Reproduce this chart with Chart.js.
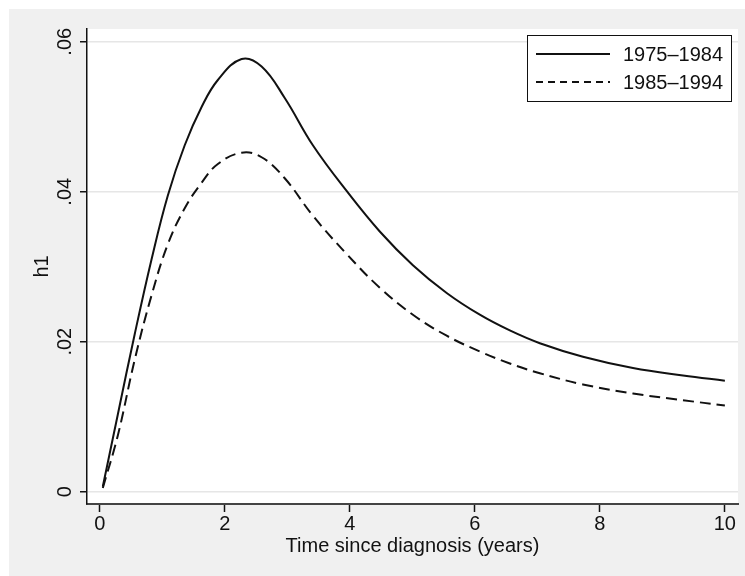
<!DOCTYPE html>
<html lang="en">
<head>
    <meta charset="UTF-8">
    <title>h1 by period</title>
    <script src="https://cdn.jsdelivr.net/npm/chart.js@4.4.1/dist/chart.umd.min.js"></script>
    <style>
        html, body {
            margin: 0;
            padding: 0;
            background: #ffffff;
        }
        .chart-box {
            position: relative;
            width: 745px;
            height: 576px;
        }
    </style>
</head>
<body>
    <div class="chart-box">
        <canvas id="hazard-chart" width="745" height="576"></canvas>
    </div>
    <script>
        // values
        const times = [0.05, 0.29, 0.56, 0.83, 1.09, 1.36, 1.63, 1.89, 2.27, 2.59, 2.96, 3.41,
                       3.95, 4.48, 5.01, 5.55, 6.08, 6.56, 7.04, 7.73, 8.53, 9.33, 10.0];
        const h1Period1 = [0.0007, 0.0103, 0.0210, 0.0310, 0.0395, 0.0462, 0.0513, 0.0549, 0.0577, 0.0567, 0.0525, 0.0462,
                           0.0401, 0.0347, 0.0302, 0.0265, 0.0236, 0.0215, 0.0198, 0.0180, 0.0165, 0.0155, 0.0148];
        const h1Period2 = [0.0005, 0.0075, 0.0176, 0.0262, 0.0330, 0.0378, 0.0412, 0.0437, 0.0452, 0.0446, 0.0418, 0.0368,
                           0.0317, 0.0272, 0.0236, 0.0208, 0.0187, 0.0171, 0.0158, 0.0143, 0.0131, 0.0122, 0.0115];
        const seriesNames = ['1975\u20131984', '1985\u20131994'];
        const xTicks = [0, 2, 4, 6, 8, 10];
        const yTicks = [0, 0.02, 0.04, 0.06];
        const yTickLabels = ['0', '.02', '.04', '.06'];

        const FONT = "'Liberation Sans', Arial, sans-serif";
        const INK = '#111111';

        const toPoints = (ys) => times.map((t, i) => ({ x: t, y: ys[i] }));

        // grey graph region, white plot region, rotated y labels and boxed legend
        const stataLook = {
            id: 'stataLook',
            beforeDraw(chart) {
                const { ctx, chartArea } = chart;
                ctx.save();
                ctx.fillStyle = '#ffffff';
                ctx.fillRect(0, 0, chart.width, chart.height);
                ctx.fillStyle = '#f0f0f0';
                ctx.fillRect(9, 9, chart.width - 9, chart.height - 9);
                ctx.fillStyle = '#ffffff';
                ctx.fillRect(chartArea.left, chartArea.top, chartArea.right - chartArea.left, chartArea.bottom - chartArea.top);
                ctx.restore();
            },
            afterDraw(chart) {
                const { ctx } = chart;
                const yScale = chart.scales.y;
                ctx.save();
                ctx.fillStyle = INK;
                ctx.font = '20px ' + FONT;
                ctx.textAlign = 'center';
                ctx.textBaseline = 'alphabetic';
                yTicks.forEach((v, i) => {
                    ctx.save();
                    ctx.translate(71, yScale.getPixelForValue(v));
                    ctx.rotate(-Math.PI / 2);
                    ctx.fillText(yTickLabels[i], 0, 0);
                    ctx.restore();
                });

                // legend
                const box = { x: 527.5, y: 35.5, w: 204, h: 66 };
                ctx.fillStyle = '#ffffff';
                ctx.fillRect(box.x, box.y, box.w, box.h);
                ctx.strokeStyle = INK;
                ctx.lineWidth = 1;
                ctx.strokeRect(box.x, box.y, box.w, box.h);
                const rows = [54, 82];
                chart.data.datasets.forEach((ds, i) => {
                    ctx.beginPath();
                    ctx.lineWidth = 2;
                    ctx.setLineDash(i === 0 ? [] : [7, 5]);
                    ctx.moveTo(536, rows[i]);
                    ctx.lineTo(610, rows[i]);
                    ctx.stroke();
                    ctx.setLineDash([]);
                    ctx.textAlign = 'left';
                    ctx.textBaseline = 'middle';
                    ctx.fillStyle = INK;
                    ctx.fillText(ds.label, 623, rows[i] + 1);
                });
                ctx.restore();
            }
        };

        const ctx = document.getElementById('hazard-chart').getContext('2d');
        new Chart(ctx, {
            type: 'line',
            data: {
                datasets: [{
                    label: seriesNames[0],
                    data: toPoints(h1Period1),
                    borderColor: INK,
                    borderWidth: 2,
                    pointRadius: 0,
                    tension: 0.4,
                    fill: false
                }, {
                    label: seriesNames[1],
                    data: toPoints(h1Period2),
                    borderColor: INK,
                    borderWidth: 2,
                    borderDash: [11, 6],
                    pointRadius: 0,
                    tension: 0.4,
                    fill: false
                }]
            },
            options: {
                responsive: false,
                animation: false,
                layout: { padding: { left: 0, top: 29, right: 7, bottom: 0 } },
                plugins: {
                    legend: { display: false },
                    tooltip: { enabled: false }
                },
                scales: {
                    x: {
                        type: 'linear',
                        min: -0.203,
                        max: 10.21,
                        afterBuildTicks: (scale) => { scale.ticks = xTicks.map(v => ({ value: v })); },
                        afterFit: (scale) => { scale.height = 72; },
                        grid: {
                            drawOnChartArea: false,
                            drawTicks: true,
                            tickLength: 8,
                            tickColor: INK,
                            tickWidth: 1.5
                        },
                        border: { color: '#444444', width: 2 },
                        ticks: {
                            autoSkip: false,
                            maxRotation: 0,
                            padding: 0,
                            color: INK,
                            font: { family: FONT, size: 20 }
                        },
                        title: {
                            display: true,
                            text: 'Time since diagnosis (years)',
                            color: INK,
                            font: { family: FONT, size: 20 },
                            padding: { top: 0, bottom: 18 }
                        }
                    },
                    y: {
                        type: 'linear',
                        min: -0.00164,
                        max: 0.0617,
                        afterBuildTicks: (scale) => { scale.ticks = yTicks.map(v => ({ value: v })); },
                        afterFit: (scale) => { scale.width = 87; },
                        grid: {
                            color: '#e6e6e6',
                            lineWidth: 1.5,
                            drawTicks: true,
                            tickLength: 7,
                            tickColor: INK,
                            tickWidth: 1.5
                        },
                        border: { color: INK, width: 1.5 },
                        ticks: { display: false },
                        title: {
                            display: true,
                            text: 'h1',
                            color: INK,
                            font: { family: FONT, size: 20 },
                            padding: { top: 30, bottom: 0 }
                        }
                    }
                }
            },
            plugins: [stataLook]
        });
    </script>
</body>
</html>
